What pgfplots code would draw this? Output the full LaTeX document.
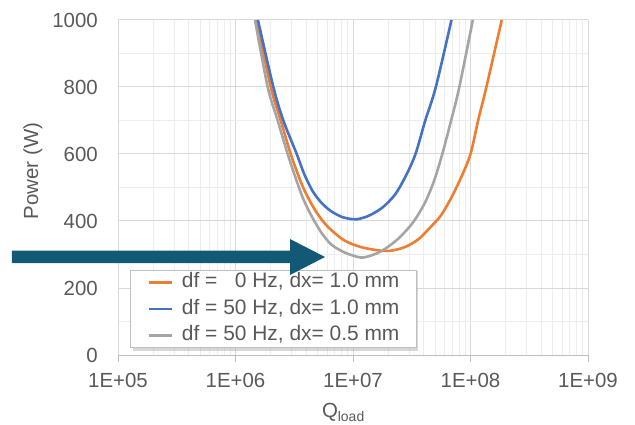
\documentclass[border=0pt]{standalone}
\usepackage{fontspec}
\setmainfont{Liberation Sans}
\usepackage{pgfplots}
\pgfplotsset{compat=1.18}
\definecolor{xorange}{HTML}{ED7D31}
\definecolor{xblue}{HTML}{4472C4}
\definecolor{xgray}{HTML}{A5A5A5}
\definecolor{gridmaj}{HTML}{D9D9D9}
\definecolor{gridmin}{HTML}{EDEDED}
\definecolor{axgray}{HTML}{BFBFBF}
\definecolor{txtgray}{HTML}{595959}
\definecolor{arrowcol}{RGB}{17,89,117}
\begin{document}
\begin{tikzpicture}
\path[use as bounding box] (-118bp,-70bp) rectangle (517bp,355bp);
\begin{axis}[
  at={(0bp,0bp)}, anchor=south west,
  scale only axis, width=470bp, height=335bp,
  xmode=log, xmin=1e5, xmax=1e9, ymin=0, ymax=1000,
  xtick={1e5,1e6,1e7,1e8,1e9},
  xticklabels={1E+05,1E+06,1E+07,1E+08,1E+09},
  minor xtick={2e5,3e5,4e5,5e5,6e5,7e5,8e5,9e5,2e6,3e6,4e6,5e6,6e6,7e6,8e6,9e6,2e7,3e7,4e7,5e7,6e7,7e7,8e7,9e7,2e8,3e8,4e8,5e8,6e8,7e8,8e8,9e8},
  ytick={0,200,400,600,800,1000},
  minor ytick={100,300,500,700,900},
  grid=both,
  major grid style={draw=gridmaj, line width=1bp},
  minor grid style={draw=gridmin, line width=0.8bp},
  axis lines*=left,
  x axis line style={-, draw=axgray, line width=1bp},
  y axis line style={-, draw=gridmaj, line width=1bp},
  xtick align=outside, ytick align=inside,
  major tick length=7bp, minor tick length=0bp,
  xtick style={draw=axgray, line width=1bp},
  ytick style={draw=none},
  tick label style={font=\fontsize{20.5}{24}\selectfont, text=txtgray, inner sep=0pt},
  yticklabel style={anchor=east, xshift=-20bp},
  xticklabel style={anchor=north, yshift=-11bp},
  /pgf/number format/assume math mode=true,
  /pgf/number format/1000 sep={},
  ylabel={Power (W)},
  ylabel style={at={(axis description cs:-0.181,0.549)}, anchor=center, rotate=0, font=\fontsize{20.5}{24}\selectfont, text=txtgray},
  xlabel={Q\raisebox{-0.35ex}{\fontsize{14}{16}\selectfont load}},
  xlabel style={at={(axis description cs:0.479,-0.186)}, anchor=base, font=\fontsize{20.5}{24}\selectfont, text=txtgray},
  legend cell align=left,
  legend image code/.code={\draw[#1] (0bp,0bp) -- (23bp,0bp);},
  legend style={at={(0.0255,0.021)}, anchor=south west,
    draw=axgray, line width=0.8bp, fill=white,
    font=\fontsize{21}{24}\selectfont, text=txtgray,
    inner xsep=17bp, inner ysep=3bp, row sep=8bp, column sep=9bp,
    nodes={text height=14.5bp, text depth=4bp, inner ysep=0bp, inner xsep=0bp}},
  clip=false,
]
\addplot[xorange, line width=2.6bp, smooth] coordinates {
(1.510e6,1000) (1.995e6,800) (2.427e6,700) (2.951e6,600) (3.631e6,513)
(4.246e6,463) (4.955e6,423) (6.095e6,383) (8.356e6,343) (1.148e7,323)
(1.592e7,313) (2.065e7,311) (2.754e7,322) (3.589e7,345) (4.519e7,380)
(5.559e7,415) (6.761e7,465) (8.318e7,530) (1.000e8,600) (1.161e8,700)
(1.365e8,800) (1.845e8,1000)};
\addlegendentry{df = \phantom{5}0 Hz, dx= 1.0 mm}
\addplot[xblue, line width=2.6bp, smooth] coordinates {
(1.552e6,1000) (2.099e6,800) (2.553e6,700) (3.319e6,600) (3.846e6,540)
(4.519e6,490) (5.370e6,455) (6.457e6,430) (7.943e6,413) (9.550e6,406)
(1.074e7,405) (1.349e7,415) (1.778e7,440) (2.291e7,480) (2.818e7,535)
(3.404e7,600) (4.121e7,700) (5.070e7,800) (6.887e7,1000)};
\addlegendentry{df = 50 Hz, dx= 1.0 mm}
\addplot[xgray, line width=2.6bp, smooth] coordinates {
(1.466e6,1000) (1.879e6,800) (2.286e6,700) (2.780e6,600) (3.365e6,513)
(3.802e6,463) (4.467e6,413) (5.433e6,363) (6.531e6,330) (8.035e6,310)
(9.772e6,298) (1.225e7,291) (1.698e7,308) (2.355e7,343) (3.199e7,393)
(4.074e7,453) (4.898e7,520) (5.754e7,600) (6.839e7,700) (8.035e7,800)
(1.047e8,1000)};
\addlegendentry{df = 50 Hz, dx= 0.5 mm}
\fill[black!35, opacity=0.45] (axis description cs:0.0319,0.0119) rectangle (axis description cs:0.6383,0.2507);
\end{axis}
\fill[arrowcol] (-106bp,91.75bp) -- (172bp,91.75bp) -- (172bp,80bp) -- (207bp,98bp)
  -- (172bp,116bp) -- (172bp,104.25bp) -- (-106bp,104.25bp) -- cycle;
\end{tikzpicture}
\end{document}
